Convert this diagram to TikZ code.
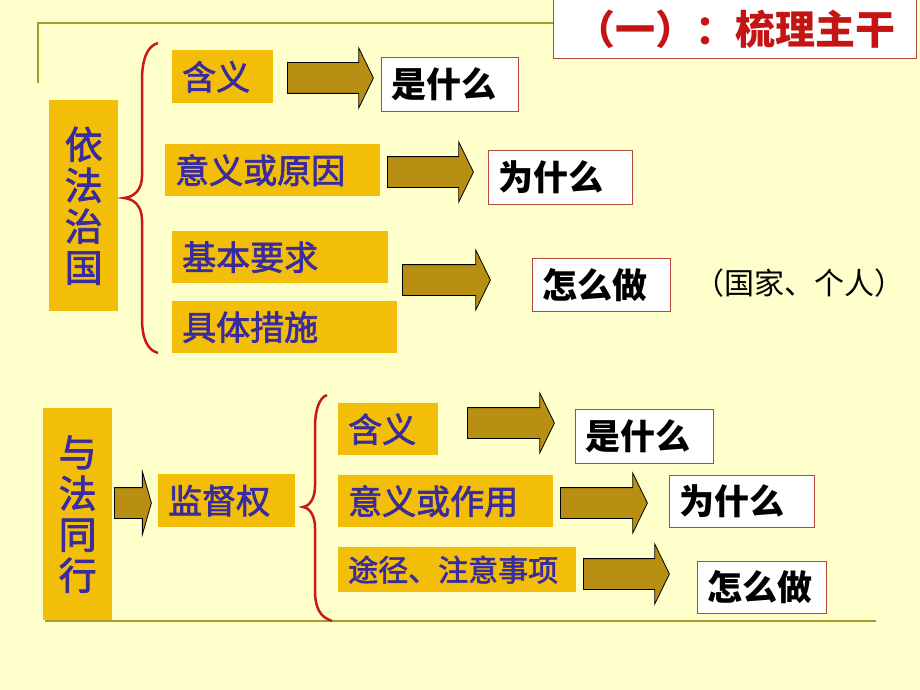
\documentclass[tikz,border=0pt]{standalone}
\usepackage{fontspec}
\newfontfamily\cjk{Noto Sans CJK SC}
\newfontfamily\cjkmed[FakeBold=2]{Noto Sans CJK SC}
\usetikzlibrary{shapes.arrows}
\definecolor{paper}{RGB}{255,255,204}
\definecolor{boxyellow}{RGB}{242,190,8}
\definecolor{inkblue}{RGB}{58,44,156}
\definecolor{arrowgold}{RGB}{184,143,18}
\definecolor{framered}{RGB}{180,70,60}
\definecolor{titlered}{RGB}{196,20,20}
\definecolor{bracered}{RGB}{200,25,25}
\definecolor{frameline}{RGB}{168,156,40}
\newcommand{\sz}[1]{\fontsize{#1}{#1}\selectfont}

\begin{document}
\begin{tikzpicture}[x=1pt,y=-1pt,
  tag/.style={fill=boxyellow,text=inkblue,anchor=north west,align=left,
    inner xsep=10pt,inner ysep=0pt,font=\cjkmed\sz{34}},
  side/.style={tag,align=center,font=\cjkmed\fontsize{38}{41}\selectfont},
  ans/.style={draw=framered,line width=1.2pt,fill=white,anchor=north west,
    align=left,inner xsep=10pt,inner ysep=0pt,font=\cjk\bfseries\sz{35}},
  goldarrow/.style={single arrow,fill=arrowgold,draw=black,line width=0.8pt,
    inner xsep=0pt,inner ysep=15pt,single arrow head extend=14.5pt,
    single arrow tip angle=128,anchor=tail},
  brace/.style={draw=bracered,line width=2.5pt}]
    \fill[paper] (0,0) rectangle (920,690);
    \useasboundingbox (0,0) rectangle (920,690);
    % frame lines
    \draw[frameline,line width=2pt] (38,83) -- (38,23) -- (553,23);
    \draw[frameline,line width=2.5pt] (45,621) -- (876,621);
    \node[ans,text=titlered,align=center,text width=343pt,minimum height=59pt,
      font=\cjk\bfseries\sz{40}] (title) at (553,-1) {（一）：梳理主干};

    % upper part
    \node[side,text width=49pt,minimum height=211pt] (yifa) at (49,100) {依\\法\\治\\国};
    \draw[brace] (158,43) .. controls (147,46) and (142,60) .. (142,80) -- (142,176)
      .. controls (142,190) and (134,197) .. (124,198)
      .. controls (134,199) and (142,206) .. (142,220) -- (142,318)
      .. controls (142,338) and (147,350) .. (158,353);
    \node[tag,text width=81pt,minimum height=53pt] (hanyiA) at (172,50) {含义};
    \node[tag,text width=195pt,minimum height=52pt] (yiyiA) at (165,144) {意义或原因};
    \node[tag,text width=196pt,minimum height=52pt] (yaoqiu) at (172,231) {基本要求};
    \node[tag,text width=205pt,minimum height=52pt] (cuoshi) at (172,301) {具体措施};
    \node[goldarrow,minimum height=86pt] (arA1) at (287,78) {};
    \node[goldarrow,minimum height=86pt] (arA2) at (387,172) {};
    \node[goldarrow,minimum height=88pt] (arA3) at (402,280) {};
    \node[ans,text width=117pt,minimum height=54pt] (shiA) at (381,57) {是什么};
    \node[ans,text width=124pt,minimum height=54pt] (weiA) at (488,150) {为什么};
    \node[ans,text width=118pt,minimum height=53pt] (zenA) at (532,258) {怎么做};
    \node[font=\cjk\sz{30},inner sep=0pt] (guojia) at (799,283) {（国家、个人）};

    % lower part
    \node[side,text width=49pt,minimum height=212pt] (yufa) at (43,408) {与\\法\\同\\行};
    \node[goldarrow,minimum height=37pt,single arrow head extend=16pt,
      single arrow tip angle=148] (arB0) at (114,503) {};
    \node[tag,text width=117pt,minimum height=53pt] (jiandu) at (158,474) {监督权};
    \draw[brace] (327,395) .. controls (319,398) and (315,410) .. (315,428) -- (315,486)
      .. controls (315,498) and (310,506) .. (303,507)
      .. controls (310,508) and (315,516) .. (315,528) -- (315,590)
      .. controls (315,608) and (320,617) .. (332,621);
    \node[tag,text width=80pt,minimum height=52pt] (hanyiB) at (338,403) {含义};
    \node[tag,text width=195pt,minimum height=52pt] (yiyiB) at (338,475) {意义或作用};
    \node[tag,text width=218pt,minimum height=45pt,font=\cjkmed\sz{30}] (tujing) at (338,547) {途径、注意事项};
    \node[goldarrow,minimum height=87pt] (arB1) at (467,423) {};
    \node[goldarrow,minimum height=87pt] (arB2) at (560,503) {};
    \node[goldarrow,minimum height=86pt] (arB3) at (583,574) {};
    \node[ans,text width=118pt,minimum height=54pt] (shiB) at (575,409) {是什么};
    \node[ans,text width=125pt,minimum height=52pt] (weiB) at (669,475) {为什么};
    \node[ans,text width=109pt,minimum height=52pt] (zenB) at (697,561) {怎么做};
\end{tikzpicture}
\end{document}
